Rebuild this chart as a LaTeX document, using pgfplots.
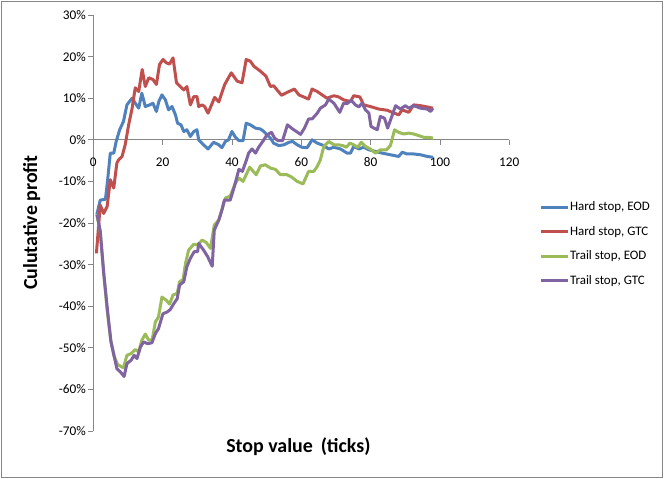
\documentclass[border=0pt]{standalone}
\usepackage{fontspec}
\setmainfont{Carlito}
\usepackage{pgfplots}
\pgfplotsset{compat=1.18}
\definecolor{xblue}{HTML}{4F81BD}
\definecolor{xred}{HTML}{C0504D}
\definecolor{xgreen}{HTML}{9BBB59}
\definecolor{xpurple}{HTML}{8064A2}
\definecolor{axgray}{HTML}{868686}
\begin{document}
\begin{tikzpicture}
\begin{axis}[
  at={(0,0)}, anchor=south west,
  scale only axis, width=416bp, height=416bp,
  xmin=0, xmax=120, ymin=-70, ymax=30,
  axis x line*=middle, axis y line*=left,
  hide obscured x ticks=false, hide obscured y ticks=false,
  axis line style={axgray, line width=0.8bp},
  tick style={axgray, line width=0.8bp},
  tick align=outside, major tick length=5bp,
  xtick={0,20,40,60,80,100,120},
  xticklabels={0,20,40,60,80,100,120},
  ytick={-70,-60,-50,-40,-30,-20,-10,0,10,20,30},
  yticklabels={-70\%,-60\%,-50\%,-40\%,-30\%,-20\%,-10\%,0\%,10\%,20\%,30\%},
  ticklabel style={font=\fontsize{13.3}{15}\selectfont, text=black},
  xticklabel style={anchor=center, yshift=-17bp},
  yticklabel style={anchor=east, xshift=1bp},
  xlabel={Stop value\, (ticks)},
  ylabel={Culutative profit},
  xlabel style={font=\fontsize{20}{24}\selectfont\bfseries, at={(axis description cs:0.493,-0.0377)}, anchor=center},
  ylabel style={font=\fontsize{20}{24}\selectfont\bfseries, at={(axis description cs:-0.148,0.501)}, anchor=center, rotate=0},
  legend style={at={(1.071,0.450)}, anchor=west, draw=none, fill=none, inner sep=0pt,
    font=\fontsize{13}{15}\selectfont, row sep=12bp, nodes={inner sep=1bp}},
  legend cell align=left,
  legend image code/.code={\draw[#1] (0bp,0bp) -- (27bp,0bp);},
  every axis plot/.append style={line width=3bp, line join=round, mark=none},
]
\addplot[xblue] coordinates {
(1,-18) (2,-14.5) (3.5,-14.3) (4.1,-10) (4.9,-3.2) (5.9,-3.2) (6.6,-0.4) (7.6,2.4) (8.7,4.4) (9.7,8.4) (11.2,10) (12.1,8.8) (13.1,7.6) (14,11.2) (15,8) (16.3,8.4) (17.2,8.8) (18.2,6.8) (18.9,9.2) (19.8,10.8) (20.8,9.6) (21.7,7.2) (22.7,8) (23.7,6) (24.3,4) (25.3,3.6) (26.1,2) (27,2.4) (28,0.8) (29,2) (29.9,2.4) (30.4,0) (31.8,-1.2) (33.1,-2.2) (34.7,-0.6) (36.2,-1.2) (37.1,-1.9) (38.1,-0.4) (39,0) (40,2) (41,0.6) (42,-0.2) (43.2,-0.2) (44.1,4) (45.3,3.6) (46.8,2.8) (48.2,2.6) (49.2,2) (50.1,1.2) (51.1,0.4) (52,-0.8) (53.5,-1.4) (55,-1.2) (56.4,-0.6) (57.5,-0.4) (58.8,-1.2) (60.2,-1.8) (61.7,-1.9) (63.1,0) (64.6,-0.8) (66.5,-1.4) (67.9,-2.2) (69.4,-1.8) (71.3,-2.2) (73.2,-3.2) (74.2,-3.2) (75.1,-1.6) (76.6,-2.2) (78,-1.8) (79.5,-2.4) (81.4,-2.8) (83.3,-3.2) (85.7,-3.6) (88.1,-4) (89.1,-3) (90.5,-3.4) (92.4,-3.4) (94.4,-3.6) (96.3,-4) (98,-4.2)
};
\addlegendentry{Hard stop, EOD}
\addplot[xred] coordinates {
(0.9,-27.3) (2,-15.7) (3,-17.7) (4,-16) (4.9,-9.6) (5.9,-11.6) (6.8,-5.6) (7.3,-4.8) (8.3,-4) (9.2,-1.2) (10.2,3.6) (11.2,7.6) (12.1,12.5) (13.1,11.6) (14.1,16.9) (15,12.8) (16,14.9) (17.2,14.5) (18.2,13.3) (19.1,18.1) (20.1,19.3) (21.1,18.5) (22,18.2) (23,19.7) (24,13.7) (25.1,12.8) (26.1,12) (27,12.8) (28,8.4) (29,10.4) (29.9,10.4) (30.4,8) (31.4,8.4) (32.1,8) (33.1,6.4) (34.3,8.8) (35,10.2) (36.2,9.1) (37.9,13.3) (39.8,16.1) (41.5,14.1) (42.9,13.7) (44.1,19.3) (45.3,18.9) (46.3,17.7) (48.2,16.5) (49.8,15.3) (51.1,12.8) (52,13) (53,12) (54.3,10.7) (55.9,11.4) (58,12.2) (59.3,10.8) (60.7,10.3) (62.1,9.8) (63.1,12.2) (64.6,11.6) (66,10.8) (67.4,10) (69.4,10.6) (70.8,10.3) (72.2,9.6) (74.2,9.2) (75.1,10.6) (76.9,10.3) (78,8.4) (79.9,8) (82.3,7.4) (84.8,7.1) (86.2,6.6) (88.1,6) (89.1,7.2) (91,6.6) (92.4,8.4) (94.4,8.2) (96.3,7.9) (98,7.6)
};
\addlegendentry{Hard stop, GTC}
\addplot[xgreen] coordinates {
(1,-18) (2,-22) (3,-32) (4,-41) (5,-48) (6,-52) (7,-54) (8,-54.5) (8.7,-54.8) (9.7,-51.8) (10.9,-51.4) (12.1,-50.4) (13.1,-51) (14,-48.2) (15,-46.7) (16,-48.2) (17,-48) (17.9,-43.8) (18.8,-42.6) (19.8,-37.8) (21.1,-38.6) (22,-39.5) (23,-37.3) (24.2,-36.9) (24.9,-34.1) (25.9,-33.6) (26.6,-29.7) (27.5,-26.5) (29,-25.1) (30.1,-25.3) (31.4,-24.1) (32.6,-24.7) (33.8,-26.1) (34.9,-20.5) (36.2,-19.3) (38.1,-14) (39.5,-13.5) (41,-10.4) (42,-9.2) (43.2,-10) (45.1,-6.6) (47,-8.4) (48.2,-6.3) (49.6,-6) (51.1,-6.8) (52.5,-7.1) (54,-8.4) (55.9,-8.4) (57.3,-9) (58.8,-10) (60.5,-10.6) (62.1,-7.6) (63.6,-7.6) (64.6,-6.4) (65.5,-4.8) (66.5,-1.6) (67.9,-0.4) (69.4,-1.2) (70.8,-1.2) (72,-1.4) (73,-1.8) (74,-0.8) (75.1,-1.2) (76.3,-1.8) (77.3,-0.6) (78.5,-1.6) (79.9,-2.2) (81.4,-3.2) (82.8,-2.4) (84.6,-2.4) (85.7,-1.4) (86.9,2.4) (88.1,1.8) (89.5,1.4) (91,1.6) (92.4,1.4) (93.9,1) (95.3,0.6) (96.8,0.6) (98,0.4)
};
\addlegendentry{Trail stop, EOD}
\addplot[xpurple] coordinates {
(1.1,-18) (2,-22) (3,-32) (4.1,-41) (5.1,-48.6) (6.8,-55) (7.8,-55.8) (8.9,-56.9) (9.7,-53.8) (10.9,-53) (11.8,-51.8) (12.6,-52.6) (13.6,-49.8) (14.5,-48.6) (15.7,-49) (16.9,-48.8) (17.9,-46.6) (18.8,-45.4) (20.1,-41.8) (21.3,-41.4) (22.2,-40.8) (23.2,-39.4) (24.2,-38.2) (24.9,-34.9) (26.1,-34.1) (27,-30.5) (28,-28.5) (29.1,-26.9) (30.1,-26.9) (30.4,-24.9) (31.8,-26.5) (33,-28.1) (34.3,-30.4) (34.9,-21.7) (36.2,-19.3) (37.1,-16.9) (37.8,-14.5) (39.5,-14.5) (40.7,-11.2) (42,-7.1) (43,-7.6) (44.2,-4.8) (44.8,-3.2) (45.8,-2.2) (46.8,-3.2) (47.7,-1.8) (49.2,0) (50.1,1.2) (51.4,1.8) (52.3,0.4) (53.3,-0.2) (54.6,-0.2) (56,3.6) (57.5,2.6) (59.8,1.3) (60.9,2.8) (62.1,5) (63.1,5) (64.6,6.4) (65.5,7.6) (67,8.4) (67.9,9.8) (69.4,8.8) (71.1,6.6) (72.2,8.8) (73.2,8.7) (74.4,9.5) (75.6,8.4) (76.6,7.9) (77.5,8.8) (78.5,7.2) (79.5,6.4) (80.1,3.2) (81.9,2.4) (82.8,5.6) (84,5.2) (84.9,2.8) (87.2,8.2) (88.6,7.4) (90,8.2) (91,7.6) (92.4,8.2) (94.4,7.6) (96.3,7.4) (97.3,6.8) (98,7.6)
};
\addlegendentry{Trail stop, GTC}
\end{axis}
\draw[axgray, line width=0.8bp] (-92.3bp,-46bp) rectangle (569.4bp,430bp);
\pgfresetboundingbox
\useasboundingbox (-93.3bp,-48bp) rectangle (573.7bp,431bp);
\end{tikzpicture}
\end{document}
